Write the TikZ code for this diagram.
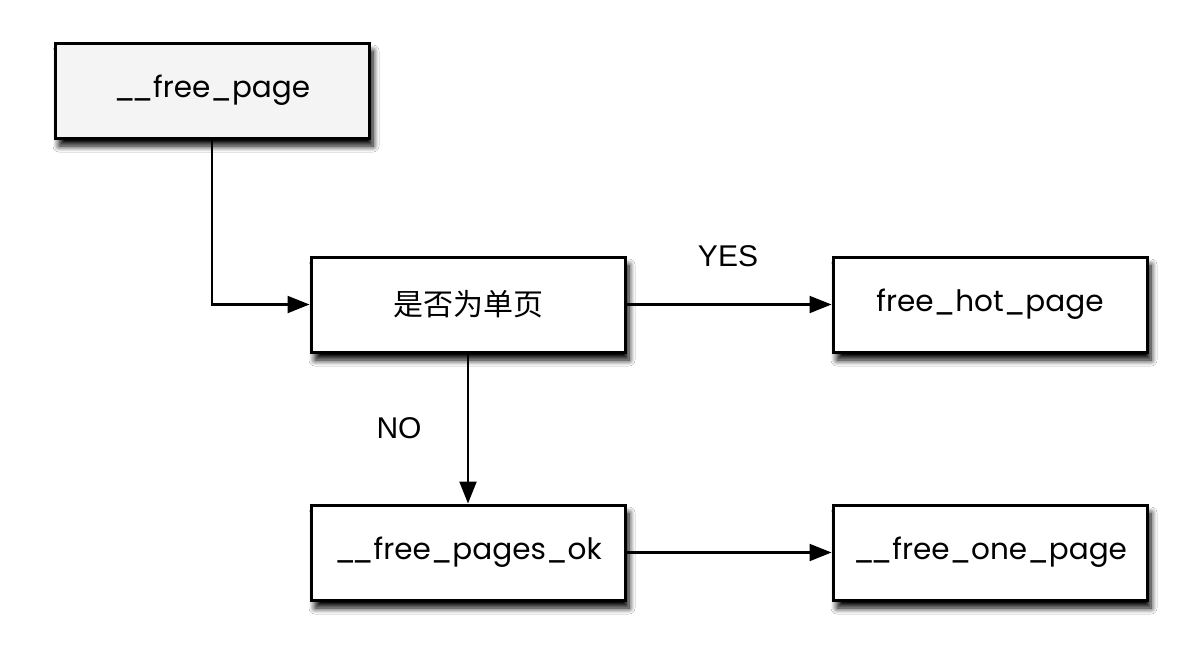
\documentclass[tikz,border=0pt]{standalone}
\usepackage{fontspec}
\setmainfont{Poppins}
\newfontfamily\cjk{Noto Sans CJK SC}
\newfontfamily\lab{Liberation Sans}
\usetikzlibrary{arrows.meta,shadows.blur}
\newcommand{\uu}{\_\kern-4pt\_}
\tikzset{
  box/.style={draw=black, line width=3pt, fill=white, minimum width=314pt, minimum height=95pt,
    inner sep=0pt, font=\fontsize{29.5}{34}\selectfont,
    blur shadow={shadow xshift=4pt, shadow yshift=-8pt, shadow blur radius=6pt, shadow blur steps=8, shadow opacity=100}},
  conn/.style={line width=2.2pt, -{Triangle[length=22pt,width=17pt]}},
  lbl/.style={font=\lab\fontsize{30}{34}\selectfont}
}
\begin{document}
\begin{tikzpicture}[x=1pt,y=-1pt]
\useasboundingbox[fill=white] (0,0) rectangle (1200,662);
\node[box, fill={rgb,255:red,244;green,244;blue,244}] (fp) at (212,90.5) {\uu free\_page};
\node[box] (q) at (468,304.5) {\cjk\fontsize{30}{34}\selectfont 是否为单页};
\node[box] (hot) at (990,304.5) {free\_hot\_page};
\node[box] (ok) at (468,552.5) {\uu free\_pages\_ok};
\node[box] (one) at (990,552.5) {\uu free\_one\_page};
\draw[conn] (fp.south) |- (q.west);
\draw[conn] (q.east) -- (hot.west);
\draw[conn] (q.south) -- (ok.north);
\draw[conn] (ok.east) -- (one.west);
\node[lbl] (yes) at (728,256) {YES};
\node[lbl] (no) at (399,428) {NO};
\end{tikzpicture}
\end{document}
